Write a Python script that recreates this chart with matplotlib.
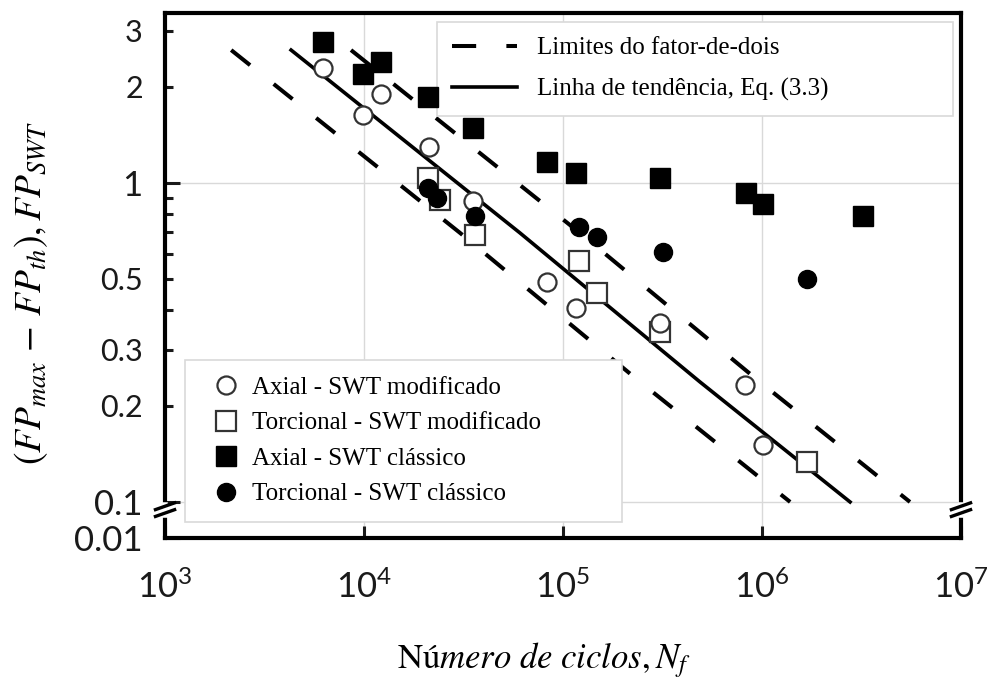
import matplotlib
matplotlib.use("Agg")
import matplotlib.pyplot as plt
import numpy as np
from matplotlib.lines import Line2D

# ---- data ----
axial_mod_N = [6200, 9900, 12200, 21200, 35300, 83200, 116000, 307000, 823000, 1010000]
axial_mod_fp = [2.29, 1.63, 1.90, 1.30, 0.88, 0.49, 0.405, 0.364, 0.233, 0.151]

tors_mod_N = [21000, 24100, 36000, 120000, 148000, 307000, 1680000]
tors_mod_fp = [1.04, 0.885, 0.687, 0.568, 0.452, 0.341, 0.133]

axial_cls_N = [6200, 9900, 12200, 21000, 35300, 83200, 116000, 307000, 832000, 1010000, 3220000]
axial_cls_fp = [2.77, 2.2, 2.39, 1.86, 1.49, 1.16, 1.075, 1.04, 0.93, 0.86, 0.79]

tors_cls_N = [21000, 23300, 36000, 120000, 148000, 318000, 1680000]
tors_cls_fp = [0.965, 0.9, 0.79, 0.728, 0.675, 0.608, 0.50]

trend_N = [4300, 60800, 487000, 2770000]
trend_fp = [2.61, 0.697, 0.238, 0.1]
fator = 2  # limites do fator-de-dois

x_ticks = [1e3, 1e4, 1e5, 1e6, 1e7]
x_ticklabels = ["$10^{3}$", "$10^{4}$", "$10^{5}$", "$10^{6}$", "$10^{7}$"]
y_major = [0.01, 0.1, 1]
y_major_labels = ["0.01", "0.1", "1"]
y_minor = [0.2, 0.3, 0.4, 0.5, 0.6, 0.7, 0.8, 0.9, 2, 3]
y_minor_labels = ["0.2", "0.3", "", "0.5", "", "", "", "", "2", "3"]

plt.rcParams["mathtext.fontset"] = "custom"
plt.rcParams["mathtext.rm"] = "Lato"
plt.rcParams["mathtext.it"] = "Lato:italic"

# broken log axis: the decade 0.01-0.1 is squeezed
k = 0.113


def fwd(v):
    lv = np.log10(np.clip(v, 1e-300, None))
    return np.where(lv >= -1, lv, -1 + (lv + 1) * k)


def inv(u):
    u = np.asarray(u, dtype=float)
    return np.where(u >= -1, 10.0 ** u, 10.0 ** (-1 + (u + 1) / k))


fig = plt.figure(figsize=(9.9, 6.78), dpi=100)
ax = fig.add_axes([0.1667, 0.2065, 0.8040, 0.7743])
ax.set_xscale("log")
ax.set_yscale("function", functions=(fwd, inv))
ax.set_xlim(1e3, 1e7)
ax.set_ylim(0.01, 3.41)

grid_c = "#d9d9d9"
for xv in x_ticks[1:-1]:
    ax.axvline(xv, color=grid_c, lw=1, zorder=0)
for yv in [0.1, 1]:
    ax.axhline(yv, color=grid_c, lw=1, zorder=0)

lw_d = 2.9
tN = np.array(trend_N)
ax.plot(tN / fator, trend_fp, color="black", lw=lw_d, dashes=(6, 7.5), zorder=2)
ax.plot(tN * fator, trend_fp, color="black", lw=lw_d, dashes=(6, 7.5), zorder=2)
ax.plot(tN, trend_fp, color="black", lw=2.6, zorder=2)

ms = 13
ax.plot(axial_cls_N, axial_cls_fp, "s", ms=14, color="black", zorder=3)
ax.plot(tors_mod_N, tors_mod_fp, "s", ms=14, mfc="white", mec="#333333", mew=1.6, zorder=3)
ax.plot(axial_mod_N, axial_mod_fp, "o", ms=ms, mfc="white", mec="#333333", mew=1.6, zorder=3)
ax.plot(tors_cls_N, tors_cls_fp, "o", ms=ms, color="black", zorder=4)

for s in ax.spines.values():
    s.set_linewidth(3)

ax.set_xticks(x_ticks)
ax.set_xticklabels(x_ticklabels)
ax.xaxis.set_minor_locator(matplotlib.ticker.NullLocator())
ax.tick_params(axis="x", which="major", direction="in", length=9, width=2.2,
               labelsize=25, pad=24, colors="#1a1a1a")

ax.set_yticks(y_major)
ax.set_yticklabels(y_major_labels)
ax.set_yticks(y_minor, minor=True)
ax.set_yticklabels(y_minor_labels, minor=True)
ax.tick_params(axis="y", which="major", direction="in", length=11, width=2.2,
               labelsize=25, pad=16, colors="#1a1a1a")
ax.tick_params(axis="y", which="minor", direction="in", length=6, width=2.2,
               labelsize=22, pad=16, colors="#1a1a1a")
for lab in ax.get_yticklabels() + ax.get_yticklabels(minor=True):
    lab.set_fontfamily("Lato")

# axis break marks
for xb in [0.0, 1.0]:
    ax.plot([xb, xb], [0.044, 0.062], transform=ax.transAxes, color="white",
            lw=4, clip_on=False, zorder=5)
    for yo in [0.0, 0.013]:
        ax.plot([xb - 0.014, xb + 0.014], [0.040 + yo, 0.055 + yo], transform=ax.transAxes,
                color="black", lw=2.4, clip_on=False, zorder=6, solid_capstyle="butt")

ax.set_ylabel(r"$(FP_{max}\,-\,FP_{th}), FP_{SWT}$", fontsize=27, math_fontfamily="stix",
              va="center", ha="center")
ax.yaxis.set_label_coords(-0.168, 0.466)
ax.set_xlabel(r"$\mathrm{Nú}mero\ de\ ciclos, N_f$", fontsize=25, math_fontfamily="stix",
              va="center", ha="center")
ax.xaxis.set_label_coords(0.476, -0.232)

serif = "Liberation Serif"
h_dash = Line2D([], [], color="black", lw=lw_d, dashes=(6, 7.5))
h_line = Line2D([], [], color="black", lw=2.6)
leg1 = ax.legend([h_dash, h_line], ["Limites do fator-de-dois", "Linha de tendência, Eq. (3.3)"],
                 loc="upper left", bbox_to_anchor=(0.342, 0.806, 0.648, 0.177), mode="expand",
                 borderaxespad=0, prop={"family": serif, "size": 18}, frameon=True,
                 fancybox=False, edgecolor="#d9d9d9", framealpha=1, handlelength=2.6,
                 handletextpad=0.8, labelspacing=0.75, borderpad=0.6)
leg1.get_frame().set_linewidth(1.2)
leg1.set_zorder(2.5)
ax.add_artist(leg1)

h1 = Line2D([], [], ls="none", marker="o", ms=ms, mfc="white", mec="#333333", mew=1.6)
h2 = Line2D([], [], ls="none", marker="s", ms=14, mfc="white", mec="#333333", mew=1.6)
h3 = Line2D([], [], ls="none", marker="s", ms=14, color="black")
h4 = Line2D([], [], ls="none", marker="o", ms=ms, color="black")
leg2 = ax.legend([h1, h2, h3, h4],
                 ["Axial - SWT modificado", "Torcional - SWT modificado",
                  "Axial - SWT clássico", "Torcional - SWT clássico"],
                 loc="lower left", bbox_to_anchor=(0.025, 0.031, 0.549, 0.307), mode="expand",
                 borderaxespad=0, prop={"family": serif, "size": 18}, frameon=True,
                 fancybox=False, edgecolor="#d9d9d9", framealpha=1, handlelength=2.0,
                 handletextpad=0.05, labelspacing=0.52, borderpad=0.65)
leg2.get_frame().set_linewidth(1.2)
leg2.set_zorder(2.5)

fig.savefig("out.png", dpi=100)
